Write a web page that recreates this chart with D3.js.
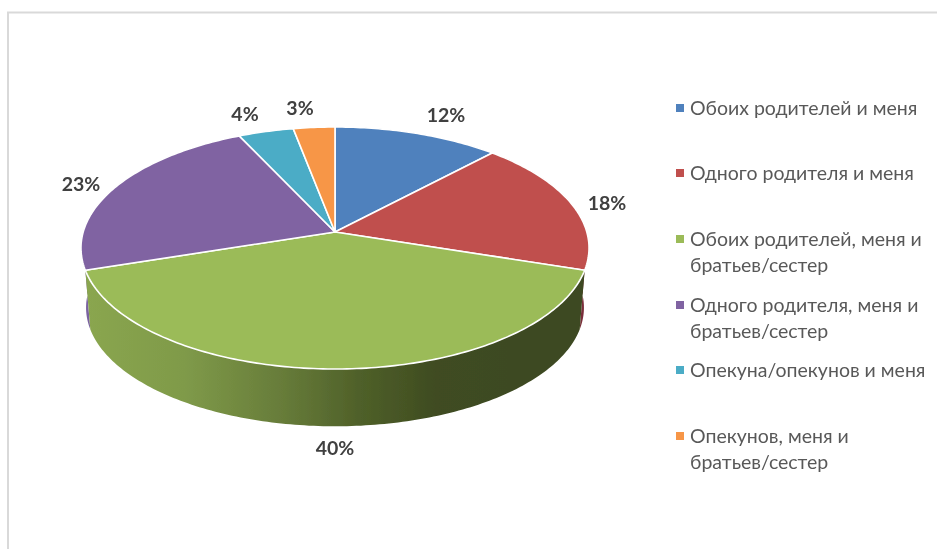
<!DOCTYPE html>
<html>
<head>
<meta charset="utf-8">
<style>
	html, body { margin: 0; padding: 0; background: #fff; }
	svg { display: block; }
	text { font-family: Lato, "Open Sans", sans-serif; }
</style>
</head>
<body>
<svg width="937" height="549"></svg>
<script src="https://cdn.jsdelivr.net/npm/d3@7/dist/d3.min.js"></script>
<script>
var categories = ["Обоих родителей и меня", "Одного родителя и меня", "Обоих родителей, меня и братьев/сестер",
	"Одного родителя, меня и братьев/сестер", "Опекуна/опекунов и меня", "Опекунов, меня и братьев/сестер"];
var legendLines = [["Обоих родителей и меня"], ["Одного родителя и меня"], ["Обоих родителей, меня и", "братьев/сестер"],
	["Одного родителя, меня и", "братьев/сестер"], ["Опекуна/опекунов и меня"], ["Опекунов, меня и", "братьев/сестер"]];
var values = [12, 18, 40, 23, 4, 3];
var colors = ["#4f81bd", "#c0504d", "#9bbb59", "#8064a2", "#4bacc6", "#f79646"];
var wallDark = ["#2a4468", "#7a2f3a", "#3d4a20", "#7a62a0", "#285f6e", "#8a5122"];
var legendY = [108, 173, 239, 305, 370, 436];

var svg = d3.select("svg");

var blur = svg.append("defs").append("filter").attr("id", "soft");
blur.append("feGaussianBlur").attr("stdDeviation", 0.45);

// chart frame, only top and left show in the crop
svg.append("path").attr("d", "M8,549V12.5H937").attr("fill", "none").attr("stroke", "#d9d9d9").attr("stroke-width", 2);

var cx = 335, cy = 232, b = 251.8, a = 118.9, k = 0.1322;  // tilted disc, apex sits above ellipse centre
var depth = 60, shrink = 0.98;

function top_pt(t) {
	var u = Math.sin(t), v = -Math.cos(t), w = 1 - k * v;
	return [cx + b * u / w, cy + a * v / w];
}
function bot_pt(t) {
	var p = top_pt(t);
	return [cx + (p[0] - cx) * shrink, cy + (p[1] - cy) * shrink + depth];
}
function arcPts(f, t0, t1) {
	var n = Math.max(2, Math.ceil((t1 - t0) * 60));
	return d3.range(n + 1).map(function(i) { return f(t0 + (t1 - t0) * i / n); });
}

var arcs = d3.pie().sort(null).value(function(d) { return d; })(values);
var line = d3.line();

var wallStops = [[0, "#8aa64f"], [0.2, "#7f9a49"], [0.4, "#667b39"], [0.55, "#4f6029"], [0.7, "#3f4c21"], [1, "#3c4820"]];
var grad = svg.select("defs").append("linearGradient").attr("id", "wallGreen").attr("gradientUnits", "userSpaceOnUse")
	.attr("x1", 85).attr("x2", 585).attr("y1", 0).attr("y2", 0);
grad.selectAll("stop").data(wallStops).enter().append("stop")
	.attr("offset", function(d) { return d[0]; }).attr("stop-color", function(d) { return d[1]; });

var pie = svg.append("g").attr("filter", "url(#soft)");

// walls: only the front half shows, back ones first
pie.append("g").selectAll("path")
	.data(arcs.filter(function(d) { return d.index != 2; }).concat(arcs[2]))
	.enter().append("path")
	.attr("d", function(d) {
		var up = arcPts(top_pt, d.startAngle, d.endAngle);
		var down = arcPts(bot_pt, d.startAngle, d.endAngle).reverse();
		return line(up.concat(down)) + "Z";
	})
	.attr("fill", function(d) { return d.index == 2 ? "url(#wallGreen)" : wallDark[d.index]; });

// top face
pie.append("g").selectAll("path")
	.data(arcs)
	.enter().append("path")
	.attr("d", function(d) {
		return line([[cx, cy]].concat(arcPts(top_pt, d.startAngle, d.endAngle))) + "Z";
	})
	.attr("fill", function(d, i) { return colors[i]; })
	.attr("stroke", "#fff").attr("stroke-width", 1.6).attr("stroke-linejoin", "round");

// data labels
var labelPos = [[446, 115], [607, 203], [335, 448], [81, 184], [245, 114], [300, 108]];
svg.append("g").attr("filter", "url(#soft)").selectAll("text")
	.data(values)
	.enter().append("text")
	.attr("x", function(d, i) { return labelPos[i][0]; })
	.attr("y", function(d, i) { return labelPos[i][1]; })
	.attr("dy", "0.35em")
	.attr("text-anchor", "middle")
	.attr("font-size", 19.5).attr("font-weight", 700).attr("fill", "#404040")
	.text(function(d) { return d + "%"; });

// legend
var leg = svg.append("g").attr("filter", "url(#soft)").selectAll("g")
	.data(categories)
	.enter().append("g")
	.attr("transform", function(d, i) { return "translate(676," + legendY[i] + ")"; });
leg.append("rect").attr("y", -4).attr("width", 8).attr("height", 8)
	.attr("fill", function(d, i) { return colors[i]; });
leg.each(function(d, i) {
	d3.select(this).selectAll("text")
		.data(legendLines[i])
		.enter().append("text")
		.attr("x", 14)
		.attr("y", function(s, j) { return j * 26; })
		.attr("dy", "0.35em")
		.attr("font-size", 19.5).attr("fill", "#595959")
		.text(function(s) { return s; });
});
</script>
</body>
</html>
